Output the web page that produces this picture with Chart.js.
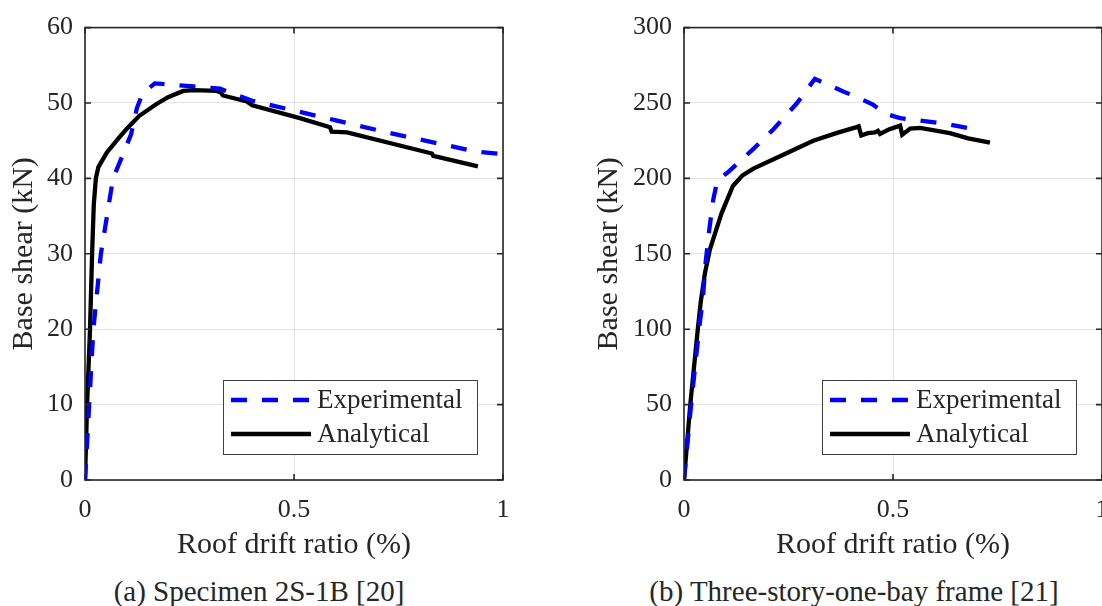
<!DOCTYPE html>
<html>
<head>
<meta charset="utf-8">
<script src="https://cdn.jsdelivr.net/npm/chart.js@4.4.1/dist/chart.umd.min.js"></script>
<style>
  html, body { margin: 0; padding: 0; background: #fff; overflow: hidden; width: 1102px; height: 606px; }
  canvas { position: absolute; top: 0; }
  #chartA { left: 0; }
  #chartB { left: 551px; }
  .caption {
    position: absolute;
    top: 577px;
    font: 29px 'Liberation Serif', 'Times New Roman', serif;
    line-height: 29px;
    color: #262626;
    white-space: nowrap;
    transform: translateX(-50%);
  }
</style>
</head>
<body>
<canvas id="chartA" width="551" height="570"></canvas>
<canvas id="chartB" width="600" height="570"></canvas>
<div class="caption" style="left: 259px">(a) Specimen 2S-1B [20]</div>
<div class="caption" style="left: 854px">(b) Three-story-one-bay frame [21]</div>
<script>
// (a) Specimen 2S-1B
const expAX = [0, 0.01, 0.02, 0.038, 0.067, 0.088, 0.11, 0.124, 0.138, 0.167, 0.26, 0.323, 0.4, 0.5, 0.6, 0.7, 0.78, 0.857, 0.93, 1.0]
const expAY = [0, 10, 20, 30, 40, 42.8, 45.8, 49.3, 51.3, 52.6, 52.2, 51.9, 50.3, 49.0, 47.7, 46.4, 45.4, 44.5, 43.6, 43.2]
const anaAX = [0, 0.005, 0.012, 0.017, 0.021, 0.026, 0.032, 0.052, 0.08, 0.1, 0.13, 0.172, 0.2, 0.235, 0.26, 0.315, 0.325, 0.33, 0.387, 0.4, 0.514, 0.586, 0.59, 0.627, 0.83, 0.833, 0.94]
const anaAY = [0, 10, 20, 30, 36.5, 40, 41.5, 43.4, 45.3, 46.6, 48.3, 49.9, 50.8, 51.6, 51.7, 51.6, 51.4, 51.0, 50.2, 49.7, 48.0, 46.8, 46.2, 46.1, 43.3, 43.0, 41.6]

// (b) Three-story-one-bay frame
const expBX = [0, 0.017, 0.036, 0.045, 0.052, 0.06, 0.07, 0.08, 0.105, 0.166, 0.214, 0.27, 0.313, 0.381, 0.413, 0.452, 0.48, 0.517, 0.63, 0.678]
const expBY = [0, 50, 100, 120, 145, 165, 186, 199, 204, 219.6, 232.6, 249.8, 266, 257.6, 254, 249, 243, 240, 236, 233.5]
const anaBX = [0, 0.015, 0.033, 0.04, 0.05, 0.062, 0.09, 0.117, 0.14, 0.166, 0.24, 0.309, 0.37, 0.413, 0.418, 0.424, 0.44, 0.457, 0.464, 0.469, 0.49, 0.517, 0.522, 0.541, 0.565, 0.636, 0.68, 0.732]
const anaBY = [0, 50, 100, 118, 137, 153, 177, 195, 202, 206.5, 216, 225, 230.5, 234, 234.5, 228.5, 230, 230.5, 231.5, 229.5, 232.5, 235, 229, 233, 233.5, 230, 226.5, 223.7]

const xTicks = [0, 0.5, 1]
const xTickLabels = ['0', '0.5', '1']
const yTicksA = [0, 10, 20, 30, 40, 50, 60]
const yTicksB = [0, 50, 100, 150, 200, 250, 300]
const seriesNames = ['Experimental', 'Analytical']

const FONT = "'Liberation Serif', 'Times New Roman', serif"
const TEXT = '#262626'

const toPoints = (xs, ys) => xs.map((x, i) => ({ x, y: ys[i] }))

// matlab-like box with inward ticks
const frame = {
  id: 'frame',
  afterDatasetsDraw(chart) {
    const {
      ctx,
      chartArea: { left, top, right, bottom },
      scales: { x, y },
    } = chart
    ctx.save()
    ctx.strokeStyle = TEXT
    ctx.lineWidth = 1.6
    ctx.strokeRect(left, top, right - left, bottom - top)
    ctx.beginPath()
    x.ticks.forEach((t) => {
      const px = x.getPixelForValue(t.value)
      ctx.moveTo(px, bottom)
      ctx.lineTo(px, bottom - 6)
      ctx.moveTo(px, top)
      ctx.lineTo(px, top + 6)
    })
    y.ticks.forEach((t) => {
      const py = y.getPixelForValue(t.value)
      ctx.moveTo(left, py)
      ctx.lineTo(left + 6, py)
      ctx.moveTo(right, py)
      ctx.lineTo(right - 6, py)
    })
    ctx.stroke()
    ctx.restore()
  },
}

// legend box in the lower right corner of the plot
const boxLegend = {
  id: 'boxLegend',
  afterDraw(chart) {
    const { ctx, chartArea } = chart
    const w = 254
    const h = 74
    const x0 = chartArea.right - 26 - w
    const y0 = chartArea.bottom - 26 - h
    ctx.save()
    ctx.fillStyle = '#fff'
    ctx.fillRect(x0, y0, w, h)
    ctx.strokeStyle = '#404040'
    ctx.lineWidth = 1
    ctx.strokeRect(x0 + 0.5, y0 + 0.5, w, h)
    chart.data.datasets.forEach((ds, i) => {
      const cy = y0 + 20 + i * 34
      ctx.beginPath()
      ctx.strokeStyle = ds.borderColor
      ctx.lineWidth = ds.borderWidth
      ctx.setLineDash(ds.borderDash || [])
      ctx.moveTo(x0 + 8, cy)
      ctx.lineTo(x0 + 88, cy)
      ctx.stroke()
      ctx.setLineDash([])
      ctx.fillStyle = TEXT
      ctx.font = '27px ' + FONT
      ctx.textBaseline = 'middle'
      ctx.textAlign = 'left'
      ctx.fillText(ds.label, x0 + 94, cy + 1)
    })
    ctx.restore()
  },
}

function makeChart(id, exp, ana, yTicks, yWidth, yTitlePad, padRight) {
  const ctx = document.getElementById(id).getContext('2d')
  return new Chart(ctx, {
    type: 'line',
    data: {
      datasets: [
        {
          label: seriesNames[0],
          data: exp,
          borderColor: '#0000ff',
          borderWidth: 4.3,
          borderDash: [16, 15],
          pointRadius: 0,
          tension: 0,
        },
        {
          label: seriesNames[1],
          data: ana,
          borderColor: '#000000',
          borderWidth: 4.3,
          pointRadius: 0,
          tension: 0,
        },
      ],
    },
    options: {
      responsive: false,
      animation: false,
      events: [],
      layout: { padding: { left: 0, right: padRight, top: 20, bottom: 0 } },
      scales: {
        x: {
          type: 'linear',
          min: 0,
          max: 1,
          afterBuildTicks: (s) => {
            s.ticks = xTicks.map((v) => ({ value: v }))
          },
          afterFit: (s) => {
            s.height = 90
          },
          grid: { color: '#e3e3e3', lineWidth: 1, drawTicks: false },
          border: { display: false },
          ticks: {
            padding: 15,
            color: TEXT,
            maxRotation: 0,
            font: { family: FONT, size: 26 },
            callback: (v) => xTickLabels[xTicks.indexOf(v)],
          },
          title: {
            display: true,
            text: 'Roof drift ratio (%)',
            color: TEXT,
            font: { family: FONT, size: 30, lineHeight: 1.2 },
            padding: { top: 0, bottom: 7 },
          },
        },
        y: {
          type: 'linear',
          min: yTicks[0],
          max: yTicks[yTicks.length - 1],
          afterBuildTicks: (s) => {
            s.ticks = yTicks.map((v) => ({ value: v }))
          },
          afterFit: (s) => {
            s.width = yWidth
          },
          grid: { color: '#e3e3e3', lineWidth: 1, drawTicks: false },
          border: { display: false },
          ticks: {
            padding: 12,
            color: TEXT,
            font: { family: FONT, size: 26 },
            callback: (v) => String(v),
          },
          title: {
            display: true,
            text: 'Base shear (kN)',
            color: TEXT,
            font: { family: FONT, size: 30, lineHeight: 1.2 },
            padding: { top: yTitlePad, bottom: 0 },
          },
        },
      },
      plugins: {
        legend: { display: false },
        tooltip: { enabled: false },
      },
    },
    plugins: [frame, boxLegend],
  })
}

makeChart('chartA', toPoints(expAX, expAY), toPoints(anaAX, anaAY), yTicksA, 85, 6, 48)
makeChart('chartB', toPoints(expBX, expBY), toPoints(anaBX, anaBY), yTicksB, 133, 40, 49)
</script>
</body>
</html>
